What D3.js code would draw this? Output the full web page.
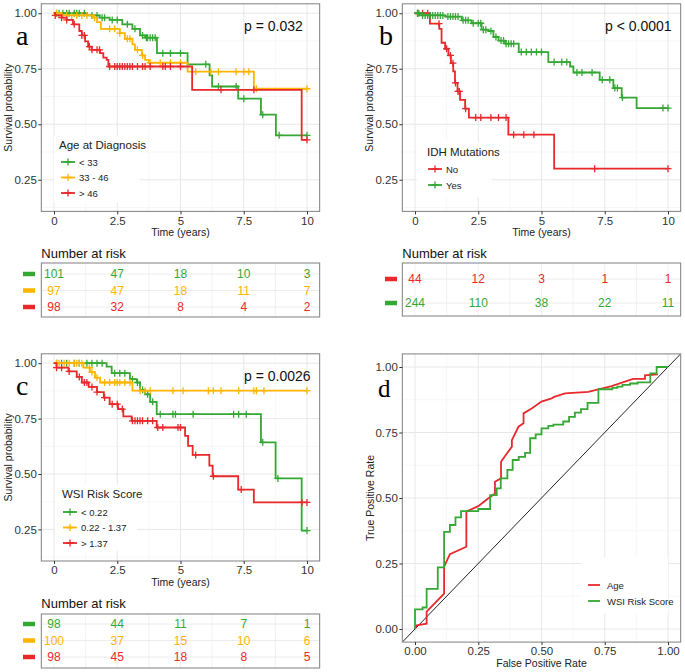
<!DOCTYPE html>
<html>
<head>
<meta charset="utf-8">
<title>Survival and ROC panels</title>
<style>
body { margin: 0; background: #ffffff; font-family: 'Liberation Sans', Arial, sans-serif; }
.tick text { font-family: 'Liberation Sans', Arial, sans-serif; fill: #333333; }
.tick line { stroke: #333333; }
</style>
</head>
<body>
<script src="https://d3js.org/d3.v7.min.js"></script>
<script>
'use strict';

// ---- data ----
const timeTicks = [0, 2.5, 5, 7.5, 10];
const survTicks = [0.25, 0.5, 0.75, 1];
const rateTicks = [0, 0.25, 0.5, 0.75, 1];

const green = '#35a834', orange = '#ffb400', red = '#e8292c';

// a: age at diagnosis
const ageGroups = ['< 33', '33 - 46', '> 46'];
const ageColors = [green, orange, red];
const ageSteps = [
  [[0, 1], [1.3, 0.99], [1.8, 0.98], [2.2, 0.97], [2.7, 0.95], [3.1, 0.93], [3.4, 0.9], [3.6, 0.89], [4.07, 0.82], [5.28, 0.77], [6.15, 0.72], [6.25, 0.67], [7.28, 0.615], [8.18, 0.543], [8.77, 0.45]],
  [[0, 1], [0.3, 0.99], [1.55, 0.98], [1.7, 0.96], [1.85, 0.93], [2.6, 0.91], [2.8, 0.885], [3.1, 0.86], [3.2, 0.835], [3.47, 0.81], [3.6, 0.79], [3.75, 0.777], [5.28, 0.737], [7.9, 0.66]],
  [[0, 1], [0.05, 0.99], [0.3, 0.98], [0.5, 0.97], [0.75, 0.95], [1.0, 0.92], [1.1, 0.9], [1.23, 0.873], [1.35, 0.85], [1.49, 0.835], [1.82, 0.82], [1.95, 0.8], [2.08, 0.79], [2.15, 0.76], [5.46, 0.655], [9.79, 0.43]]
];
const ageCensor = [
  [0.1, 0.2, 0.35, 0.5, 0.6, 0.8, 0.9, 1.0, 1.2, 1.5, 1.7, 1.9, 2.0, 2.3, 2.5, 2.9, 3.2, 3.5, 3.65, 3.7, 3.8, 3.9, 4.0, 4.3, 4.6, 5.0, 6.0, 6.5, 7.2, 7.5, 8.25, 8.9, 10],
  [0.1, 0.3, 0.5, 0.7, 0.9, 1.1, 1.3, 1.6, 2.2, 2.4, 2.6, 2.9, 3.0, 3.3, 3.5, 3.8, 4.2, 4.6, 5.0, 5.6, 6.2, 6.5, 7.2, 7.5, 7.7, 8.0, 10],
  [0.05, 0.3, 0.5, 0.8, 1.1, 1.2, 1.4, 1.5, 1.7, 1.8, 2.2, 2.4, 2.5, 2.6, 2.7, 2.8, 2.9, 3.0, 3.1, 3.3, 3.5, 3.6, 3.8, 4.3, 4.4, 4.6, 5.0, 6.6, 7.9, 10]
];
const ageRisk = [[101, 47, 18, 10, 3], [97, 47, 18, 11, 7], [98, 32, 8, 4, 2]];

// b: IDH mutations
const idhGroups = ['No', 'Yes'];
const idhColors = [red, green];
const idhSteps = [
  [[0, 1], [0.59, 0.953], [0.96, 0.93], [1.05, 0.867], [1.19, 0.84], [1.32, 0.81], [1.42, 0.775], [1.51, 0.738], [1.58, 0.686], [1.68, 0.648], [1.78, 0.61], [1.98, 0.57], [2.13, 0.53], [3.69, 0.453], [5.5, 0.3]],
  [[0, 1], [0.2, 0.99], [1.2, 0.985], [1.85, 0.968], [2.24, 0.955], [2.63, 0.926], [2.9, 0.92], [3.1, 0.893], [3.3, 0.877], [3.56, 0.863], [4.1, 0.825], [5.27, 0.78], [6.13, 0.76], [6.26, 0.733], [7.3, 0.7], [7.84, 0.663], [8.17, 0.62], [8.76, 0.573]]
];
const idhCensor = [
  [0.1, 0.3, 0.5, 0.95, 1.25, 1.4, 1.5, 1.6, 1.7, 1.75, 2.0, 2.4, 2.6, 3.0, 3.3, 3.6, 3.9, 4.3, 4.7, 7.1, 10],
  [0.1, 0.15, 0.3, 0.4, 0.5, 0.6, 0.7, 0.8, 0.9, 1.0, 1.1, 1.3, 1.4, 1.5, 1.6, 1.7, 1.9, 2.0, 2.1, 2.3, 2.5, 2.6, 2.7, 2.8, 3.0, 3.2, 3.4, 3.5, 3.6, 3.7, 3.8, 3.9, 4.2, 4.4, 4.6, 4.8, 5.0, 5.5, 5.8, 6.0, 6.4, 6.6, 7.0, 7.4, 7.7, 7.9, 8.0, 8.2, 9.8, 10]
];
const idhRisk = [[44, 12, 3, 1, 1], [244, 110, 38, 22, 11]];

// c: WSI risk score
const wsiGroups = ['< 0.22', '0.22 - 1.37', '> 1.37'];
const wsiColors = [green, orange, red];
const wsiSteps = [
  [[0, 1], [2.08, 0.985], [2.28, 0.955], [3.0, 0.928], [3.27, 0.913], [3.4, 0.88], [3.6, 0.86], [3.8, 0.826], [4.06, 0.77], [8.18, 0.643], [8.76, 0.48], [9.79, 0.245]],
  [[0, 1], [1.16, 0.98], [1.42, 0.96], [1.62, 0.935], [1.82, 0.913], [3.1, 0.876]],
  [[0, 1], [0.1, 0.98], [0.57, 0.963], [0.9, 0.938], [1.1, 0.913], [1.37, 0.893], [1.7, 0.87], [1.97, 0.845], [2.2, 0.815], [2.53, 0.793], [2.74, 0.76], [3.07, 0.74], [4.06, 0.71], [5.18, 0.672], [5.3, 0.627], [5.48, 0.586], [6.14, 0.538], [6.27, 0.49], [7.28, 0.43], [7.9, 0.372]]
];
const wsiCensor = [
  [0.1, 0.3, 0.5, 0.8, 1.0, 1.3, 1.5, 1.7, 1.9, 2.4, 2.6, 2.8, 3.1, 3.3, 3.5, 3.7, 3.9, 4.2, 4.7, 4.8, 5.5, 7.1, 7.3, 7.6, 8.25, 8.85, 10],
  [0.1, 0.2, 0.4, 0.6, 0.8, 0.9, 1.0, 1.1, 1.4, 1.5, 1.7, 2.0, 2.2, 2.4, 2.5, 2.6, 2.8, 3.0, 3.4, 3.6, 3.8, 4.7, 5.1, 6.1, 6.3, 6.6, 7.3, 7.9, 8.0, 8.3, 10],
  [0.1, 0.3, 0.6, 1.0, 1.2, 1.3, 1.5, 1.7, 2.0, 2.3, 2.5, 2.7, 3.1, 3.2, 3.3, 3.4, 3.5, 3.7, 3.9, 4.1, 4.3, 4.9, 5.0, 5.6, 6.3, 7.4, 9.8, 10]
];
const wsiRisk = [[98, 44, 11, 7, 1], [100, 37, 15, 10, 6], [98, 45, 18, 8, 5]];

// d: ROC curves (false positive rate, true positive rate)
const rocNames = ['Age', 'WSI Risk Score'];
const rocColors = [red, green];
const rocAge = [[0, 0], [0.007, 0.014], [0.046, 0.02], [0.046, 0.066], [0.07, 0.09], [0.09, 0.11], [0.115, 0.135], [0.115, 0.238], [0.138, 0.286], [0.203, 0.314], [0.203, 0.448], [0.25, 0.469], [0.289, 0.498], [0.316, 0.517], [0.316, 0.562], [0.34, 0.575], [0.34, 0.638], [0.363, 0.67], [0.383, 0.696], [0.383, 0.721], [0.409, 0.772], [0.429, 0.785], [0.429, 0.823], [0.461, 0.842], [0.5, 0.868], [0.54, 0.88], [0.55, 0.886], [0.593, 0.899], [0.685, 0.905], [0.777, 0.927], [0.862, 0.955], [0.909, 0.955], [0.909, 0.968], [0.96, 0.972]];
const rocWsi = [[0, 0], [0.03, 0.075], [0.046, 0.082], [0.09, 0.153], [0.115, 0.235], [0.138, 0.371], [0.16, 0.397], [0.182, 0.426], [0.25, 0.45], [0.297, 0.458], [0.323, 0.511], [0.339, 0.537], [0.365, 0.575], [0.386, 0.607], [0.41, 0.645], [0.435, 0.657], [0.455, 0.672], [0.477, 0.728], [0.5, 0.743], [0.527, 0.766], [0.547, 0.775], [0.586, 0.78], [0.609, 0.792], [0.632, 0.81], [0.656, 0.826], [0.682, 0.839], [0.725, 0.863], [0.78, 0.915], [0.8, 0.92], [0.82, 0.925], [0.85, 0.932], [0.88, 0.937], [0.93, 0.941], [0.955, 0.976], [1, 1]];

// ---- drawing ----
const svg = d3.select('body').append('svg')
  .attr('width', 685)
  .attr('height', 672);

const minorTime = [1.25, 3.75, 6.25, 8.75];
const minorSurv = [0.125, 0.375, 0.625, 0.875];
const minorRate = [0.125, 0.375, 0.625, 0.875];

function grid(g, x, y, majX, minX, majY, minY) {
  const [x0, x1] = x.range();
  const [y0, y1] = y.range();
  minX.forEach(v => g.append('line').attr('x1', x(v)).attr('x2', x(v)).attr('y1', y0).attr('y2', y1)
    .attr('stroke', '#f2f2f2').attr('stroke-width', 0.6));
  minY.forEach(v => g.append('line').attr('x1', x0).attr('x2', x1).attr('y1', y(v)).attr('y2', y(v))
    .attr('stroke', '#f2f2f2').attr('stroke-width', 0.6));
  majX.forEach(v => g.append('line').attr('x1', x(v)).attr('x2', x(v)).attr('y1', y0).attr('y2', y1)
    .attr('stroke', '#e8e8e8').attr('stroke-width', 1));
  majY.forEach(v => g.append('line').attr('x1', x0).attr('x2', x1).attr('y1', y(v)).attr('y2', y(v))
    .attr('stroke', '#e8e8e8').attr('stroke-width', 1));
}

function frame(g, x, y) {
  const [x0, x1] = x.range();
  const [y0, y1] = y.range();
  g.append('rect')
    .attr('x', x0).attr('y', y1)
    .attr('width', x1 - x0).attr('height', y0 - y1)
    .attr('fill', 'none').attr('stroke', '#8a8a8a').attr('stroke-width', 1.1);
}

function axes(g, x, y, xTicks, yTicks, xFmt) {
  const bottom = y.range()[0];
  const left = x.range()[0];
  const ax = g.append('g').attr('transform', 'translate(0,' + bottom + ')')
    .call(d3.axisBottom(x).tickValues(xTicks).tickSize(3).tickPadding(2).tickFormat(xFmt));
  const ay = g.append('g').attr('transform', 'translate(' + left + ',0)')
    .call(d3.axisLeft(y).tickValues(yTicks).tickSize(3).tickPadding(1.5).tickFormat(d3.format('.2f')));
  [ax, ay].forEach(a => {
    a.select('.domain').remove();
    a.selectAll('text').attr('font-size', 11.5);
  });
}

function stepAt(steps, t) {
  let s = steps[0][1];
  steps.forEach(d => { if (d[0] <= t) s = d[1]; });
  return s;
}

function plus(g, cx, cy, color) {
  g.append('path')
    .attr('d', 'M' + (cx - 3.5) + ',' + cy + 'h7M' + cx + ',' + (cy - 3.5) + 'v7')
    .attr('stroke', color).attr('stroke-width', 1.3);
}

function kmPanel(cfg) {
  const x = d3.scaleLinear().domain([-0.5, 10.5]).range([cfg.left, cfg.right]);
  const y = d3.scaleLinear().domain([0.1075, 1.0425]).range([cfg.bottom, cfg.top]);
  const g = svg.append('g');

  grid(g, x, y, timeTicks, minorTime, survTicks, minorSurv);

  const line = d3.line()
    .x(d => x(d[0])).y(d => y(d[1]))
    .curve(d3.curveStepAfter);

  cfg.steps.forEach((steps, i) => {
    const end = d3.max(cfg.censor[i]);
    const pts = steps.concat([[end, steps[steps.length - 1][1]]]);
    g.append('path').attr('d', line(pts))
      .attr('fill', 'none').attr('stroke', cfg.colors[i]).attr('stroke-width', 1.8);
    cfg.censor[i].forEach(t => plus(g, x(t), y(stepAt(steps, t)), cfg.colors[i]));
  });

  frame(g, x, y);
  axes(g, x, y, timeTicks, survTicks, d => String(d));

  g.append('text')
    .attr('transform', 'translate(' + cfg.yLabelX + ',' + ((cfg.top + cfg.bottom) / 2) + ') rotate(-90)')
    .attr('text-anchor', 'middle').attr('dominant-baseline', 'central')
    .attr('font-size', 10.5).attr('fill', '#222')
    .text('Survival probability');
  g.append('text')
    .attr('x', (cfg.left + cfg.right) / 2).attr('y', cfg.bottom + 21)
    .attr('text-anchor', 'middle').attr('dominant-baseline', 'central')
    .attr('font-size', 10.5).attr('fill', '#222')
    .text('Time (years)');

  g.append('text')
    .attr('x', cfg.pX).attr('y', cfg.pY)
    .attr('dominant-baseline', 'central')
    .attr('font-size', 14).attr('fill', '#111')
    .text(cfg.pText);

  g.append('text')
    .attr('x', cfg.letterX).attr('y', cfg.letterY)
    .attr('font-family', "'Liberation Serif', 'DejaVu Serif', serif")
    .attr('font-size', 28).attr('fill', '#000')
    .text(cfg.letter);

  // legend
  const L = cfg.legend;
  g.append('rect').attr('x', L.x).attr('y', L.y).attr('width', L.w).attr('height', L.h).attr('fill', '#fff');
  g.append('text').attr('x', L.tx).attr('y', L.ty)
    .attr('dominant-baseline', 'central').attr('font-size', 11.5).attr('fill', '#222')
    .text(L.title);
  cfg.groups.forEach((name, i) => {
    const cy = L.iy + i * L.dy;
    g.append('line').attr('x1', L.kx).attr('x2', L.kx + 14).attr('y1', cy).attr('y2', cy)
      .attr('stroke', cfg.colors[i]).attr('stroke-width', 1.8);
    plus(g, L.kx + 7, cy, cfg.colors[i]);
    g.append('text').attr('x', L.kx + 18).attr('y', cy)
      .attr('dominant-baseline', 'central').attr('font-size', 9.5).attr('fill', '#222')
      .text(name);
  });

  // number at risk table
  const T = cfg.table;
  const rows = d3.scalePoint().domain(cfg.groups).range([T.rowTop, T.rowBottom]);
  const tg = svg.append('g');
  tg.append('text').attr('x', cfg.left).attr('y', T.labelY)
    .attr('dominant-baseline', 'central').attr('font-size', 13).attr('fill', '#111')
    .text('Number at risk');
  minorTime.concat(timeTicks).forEach(v => tg.append('line')
    .attr('x1', x(v)).attr('x2', x(v)).attr('y1', T.top).attr('y2', T.bottom)
    .attr('stroke', '#efefef').attr('stroke-width', 0.8));
  cfg.groups.forEach(name => tg.append('line')
    .attr('x1', cfg.left).attr('x2', cfg.right).attr('y1', rows(name)).attr('y2', rows(name))
    .attr('stroke', '#ececec').attr('stroke-width', 1));
  tg.append('rect').attr('x', cfg.left).attr('y', T.top)
    .attr('width', cfg.right - cfg.left).attr('height', T.bottom - T.top)
    .attr('fill', 'none').attr('stroke', '#8a8a8a').attr('stroke-width', 1.1);
  cfg.groups.forEach((name, i) => {
    tg.append('line').attr('x1', T.dashX).attr('x2', T.dashX + 12)
      .attr('y1', rows(name)).attr('y2', rows(name))
      .attr('stroke', cfg.colors[i]).attr('stroke-width', 4.5);
    cfg.risk[i].forEach((n, j) => tg.append('text')
      .attr('x', x(timeTicks[j])).attr('y', rows(name))
      .attr('text-anchor', 'middle').attr('dominant-baseline', 'central')
      .attr('font-size', 12).attr('fill', cfg.colors[i])
      .text(n));
  });
}

kmPanel({
  left: 41.35, right: 319.65, top: 3.8, bottom: 211.4,
  yLabelX: 8, letter: 'a', letterX: 16, letterY: 45,
  pText: 'p = 0.032', pX: 244, pY: 26,
  groups: ageGroups, colors: ageColors, steps: ageSteps, censor: ageCensor, risk: ageRisk,
  legend: { x: 54, y: 136, w: 86, h: 67, title: 'Age at Diagnosis', tx: 59, ty: 145, kx: 61, iy: 162, dy: 15.5 },
  table: { labelY: 253, top: 263, bottom: 317, rowTop: 274, rowBottom: 307, dashX: 23 }
});

kmPanel({
  left: 402.35, right: 680.65, top: 3.8, bottom: 211.4,
  yLabelX: 369, letter: 'b', letterX: 379, letterY: 45,
  pText: 'p < 0.0001', pX: 605, pY: 26,
  groups: idhGroups, colors: idhColors, steps: idhSteps, censor: idhCensor, risk: idhRisk,
  legend: { x: 417, y: 142, w: 75, h: 55, title: 'IDH Mutations', tx: 427, ty: 152, kx: 428, iy: 169, dy: 16 },
  table: { labelY: 253, top: 263, bottom: 316, rowTop: 279, rowBottom: 303, dashX: 385 }
});

kmPanel({
  left: 41.35, right: 319.65, top: 353.8, bottom: 561,
  yLabelX: 8, letter: 'c', letterX: 16, letterY: 395,
  pText: 'p = 0.0026', pX: 244, pY: 376,
  groups: wsiGroups, colors: wsiColors, steps: wsiSteps, censor: wsiCensor, risk: wsiRisk,
  legend: { x: 55, y: 485, w: 82, h: 66, title: 'WSI Risk Score', tx: 62, ty: 494, kx: 63, iy: 512, dy: 15.5 },
  table: { labelY: 603, top: 614, bottom: 668, rowTop: 624, rowBottom: 657, dashX: 23 }
});

// ROC panel
(function rocPanel() {
  const x = d3.scaleLinear().domain([-0.05, 1.05]).range([402.35, 680.65]);
  const y = d3.scaleLinear().domain([-0.05, 1.05]).range([642.1, 353.9]);
  const g = svg.append('g');
  grid(g, x, y, rateTicks, minorRate, rateTicks, minorRate);

  svg.append('clipPath').attr('id', 'roc-clip').append('rect')
    .attr('x', 402.35).attr('y', 353.9).attr('width', 680.65 - 402.35).attr('height', 642.1 - 353.9);
  const inner = g.append('g').attr('clip-path', 'url(#roc-clip)');

  inner.append('line')
    .attr('x1', x(-0.05)).attr('y1', y(-0.05)).attr('x2', x(1.05)).attr('y2', y(1.05))
    .attr('stroke', '#222').attr('stroke-width', 1);

  inner.append('path')
    .attr('d', d3.line().x(d => x(d[0])).y(d => y(d[1]))(rocAge))
    .attr('fill', 'none').attr('stroke', rocColors[0]).attr('stroke-width', 1.8);
  inner.append('path')
    .attr('d', d3.line().x(d => x(d[0])).y(d => y(d[1])).curve(d3.curveStepBefore)(rocWsi))
    .attr('fill', 'none').attr('stroke', rocColors[1]).attr('stroke-width', 1.8);

  frame(g, x, y);
  axes(g, x, y, rateTicks, rateTicks, d3.format('.2f'));

  g.append('text')
    .attr('transform', 'translate(370,498) rotate(-90)')
    .attr('text-anchor', 'middle').attr('dominant-baseline', 'central')
    .attr('font-size', 10.5).attr('fill', '#222')
    .text('True Positive Rate');
  g.append('text')
    .attr('x', 541.5).attr('y', 663)
    .attr('text-anchor', 'middle').attr('dominant-baseline', 'central')
    .attr('font-size', 10.5).attr('fill', '#222')
    .text('False Positive Rate');
  g.append('text')
    .attr('x', 378).attr('y', 397)
    .attr('font-family', "'Liberation Serif', 'DejaVu Serif', serif")
    .attr('font-size', 25).attr('fill', '#000')
    .text('d');

  g.append('rect').attr('x', 582).attr('y', 557).attr('width', 86).attr('height', 56).attr('fill', '#fff');
  rocNames.forEach((name, i) => {
    const cy = 585 + i * 16;
    g.append('line').attr('x1', 588).attr('x2', 600).attr('y1', cy).attr('y2', cy)
      .attr('stroke', rocColors[i]).attr('stroke-width', 1.8);
    g.append('text').attr('x', 607).attr('y', cy)
      .attr('dominant-baseline', 'central').attr('font-size', 9.5).attr('fill', '#222')
      .text(name);
  });
})();
</script>
</body>
</html>
